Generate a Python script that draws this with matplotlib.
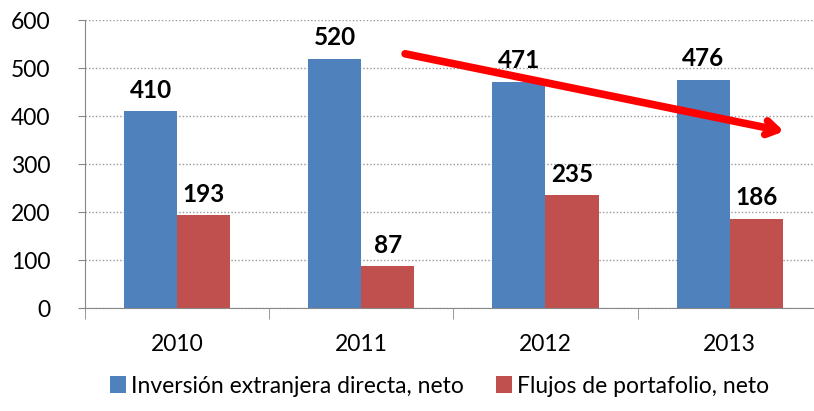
import numpy as np
from matplotlib import pyplot as plt

years = ['2010', '2011', '2012', '2013']
ied = [410, 520, 471, 476]
portafolio = [193, 87, 235, 186]
labels = ['Inversión extranjera directa, neto', 'Flujos de portafolio, neto']

plt.rcParams['font.family'] = ['Lato', 'DejaVu Sans']

fig = plt.figure(figsize=(8.14, 4.11), dpi=100)
ax = fig.add_axes([0.1045, 0.2506, 0.905, 0.7004])

x = np.arange(len(years))
w = 0.288
b1 = ax.bar(x - w / 2, ied, w, color='#4F81BD', label=labels[0])
b2 = ax.bar(x + w / 2, portafolio, w, color='#C0504D', label=labels[1])

for bars in (b1, b2):
    for r in bars:
        ax.annotate(str(int(r.get_height())), (r.get_x() + r.get_width() / 2, r.get_height()),
                    xytext=(0, 7), textcoords='offset points', ha='center', va='bottom',
                    fontsize=17.5, fontweight='bold')

ax.set_xlim(-0.5, 3.5)
ax.set_ylim(0, 600)
ax.set_yticks(range(0, 601, 100))
ax.yaxis.grid(True, linestyle=(0, (1, 1.5)), color='#999999', linewidth=1)
ax.set_axisbelow(True)

ax.set_xticks(x)
ax.set_xticklabels(years)
ax.set_xticks(np.arange(-0.5, 4, 1), minor=True)
ax.tick_params(axis='x', which='major', length=0, pad=19, labelsize=16.5)
ax.tick_params(axis='x', which='minor', length=8, color='#888888', direction='out')
ax.tick_params(axis='y', length=5, color='#888888', labelsize=16.5, pad=20)

for s in ['top', 'right']:
    ax.spines[s].set_visible(False)
for s in ['left', 'bottom']:
    ax.spines[s].set_color('#888888')

# red trend arrow
ax.annotate('', xy=(3.31, 367), xytext=(1.223, 531),
            arrowprops=dict(arrowstyle='->,head_length=0.8,head_width=0.5', color='#FF0000', lw=5.5),
            annotation_clip=False)

fig.legend(handles=[b1, b2], loc='lower center', bbox_to_anchor=(0.54, -0.015), ncol=2,
           frameon=False, fontsize=16.5, handlelength=0.7, handleheight=0.7,
           handletextpad=0.2, columnspacing=1.4)

plt.savefig('out.png')
